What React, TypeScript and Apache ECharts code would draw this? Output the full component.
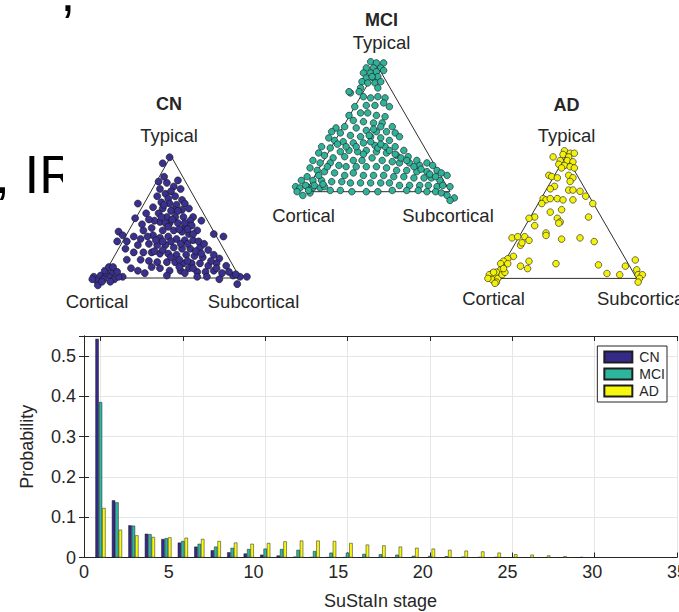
import React, { useEffect, useRef } from "react";
import * as echarts from "echarts";

// ---------- Bar chart data ----------
const STAGES = [1, 2, 3, 4, 5, 6, 7, 8, 9, 10, 11, 12, 13, 14, 15, 16, 17, 18, 19, 20, 21, 22, 23, 24, 25, 26, 27, 28, 29, 30];
const CN_PROB = [0.543, 0.142, 0.08, 0.059, 0.046, 0.037, 0.027, 0.018, 0.013, 0.01, 0.007, 0.005, 0.002, 0.001, 0.0005, 0.0005, 0, 0, 0, 0, 0, 0, 0, 0, 0, 0, 0, 0, 0, 0];
const MCI_PROB = [0.386, 0.137, 0.079, 0.058, 0.048, 0.041, 0.034, 0.027, 0.024, 0.021, 0.022, 0.021, 0.019, 0.016, 0.012, 0.012, 0.009, 0.008, 0.007, 0.004, 0.004, 0.003, 0.002, 0.001, 0.001, 0, 0, 0, 0, 0];
const AD_PROB = [0.123, 0.069, 0.055, 0.051, 0.05, 0.049, 0.046, 0.041, 0.037, 0.034, 0.036, 0.04, 0.042, 0.042, 0.041, 0.036, 0.032, 0.03, 0.027, 0.024, 0.022, 0.019, 0.017, 0.015, 0.012, 0.008, 0.007, 0.005, 0.003, 0.001];
const GRID_STAGES = [1, 6, 11, 16, 21, 26, 31, 36];
const GROUPS = ["CN", "MCI", "AD"];

// ---------- Ternary plots (x: 0 Cortical .. 100 Subcortical, y: 0 base .. 100 Typical) ----------
const TRIANGLE = [[0, 0], [100, 0], [50, 100], [0, 0]];
const VERTEX_LABELS = ["Typical", "Cortical", "Subcortical"];

const CN_POINTS = [
  [49, 99], [44, 94], [47, 78], [42, 73], [52, 75], [57, 73], [46, 69], [50, 71], [40, 67], [48, 65], [53, 67], [58, 64],
  [43, 62], [49, 61], [54, 60], [60, 61], [26, 61], [37, 58], [44, 57], [52, 56], [58, 56], [63, 57], [66, 50], [72, 47],
  [24, 49], [32, 53], [41, 53], [47, 50], [53, 50], [59, 50], [64, 47], [42, 46], [49, 45], [55, 45], [60, 42], [65, 43],
  [30, 39], [36, 41], [44, 39], [52, 39], [58, 38], [63, 36], [69, 39], [12, 38], [23, 34], [28, 32], [37, 35], [42, 33],
  [48, 34], [54, 32], [60, 31], [66, 31], [81, 36], [88, 34], [11, 30], [17, 24], [26, 27], [34, 28], [40, 27], [46, 27],
  [52, 25], [58, 24], [64, 24], [71, 25], [77, 23], [23, 21], [30, 21], [36, 21], [42, 20], [48, 20], [54, 19], [61, 19],
  [67, 18], [73, 17], [81, 19], [85, 16], [18, 15], [28, 15], [34, 14], [40, 13], [47, 13], [53, 13], [59, 12], [65, 12],
  [71, 12], [77, 10], [83, 12], [90, 10], [21, 8], [26, 6], [36, 9], [42, 8], [49, 6], [57, 6], [63, 8], [69, 5], [75, 5],
  [81, 6], [87, 4], [31, 4], [15, 1], [47, 2], [69, 1], [76, 1], [95, 2], [85, -1], [98, -5], [100, 1], [105, 1],
  [-6, 1], [-4, -2], [-1, 2], [1, -1], [3, 4], [6, 1], [8, 5], [2, 6], [5, 9], [8, 9], [9, -1], [12, 1], [-3, -6], [0, -3],
  [6, -3], [-7, -1], [11, 5], [45, 60], [50, 55], [55, 55], [46, 45], [51, 48], [56, 40], [48, 42], [43, 50], [38, 47],
  [60, 45], [62, 40], [66, 36], [70, 30], [74, 28], [68, 22], [72, 20], [62, 28], [57, 28], [50, 30], [44, 30], [39, 31],
  [33, 34], [38, 22], [44, 23], [50, 17], [56, 15], [62, 14], [56, 9], [60, 4], [66, 8], [79, 14], [83, 8], [92, 5], [97, 3],
  [18, 30], [15, 35], [29, 44], [34, 48], [45, 83], [55, 80], [41, 79],
];

const MCI_POINTS = [
  [45, 104], [49, 103], [54, 103], [42, 99], [47, 99], [52, 99], [40, 95], [45, 95], [49, 96], [54, 97], [42, 91], [47, 91],
  [50, 92], [39, 88], [43, 87], [48, 87], [38, 83], [37, 80], [31, 79], [40, 76], [50, 76], [55, 75], [48, 69], [54, 71],
  [58, 68], [34, 68], [42, 69], [38, 63], [43, 63], [49, 61], [55, 60], [30, 61], [33, 57], [40, 56], [47, 55], [53, 55],
  [60, 52], [27, 52], [35, 51], [42, 49], [49, 48], [56, 48], [62, 47], [21, 51], [18, 48], [24, 47], [31, 45], [38, 44],
  [45, 44], [52, 43], [58, 41], [65, 44], [16, 43], [20, 41], [26, 40], [33, 39], [40, 39], [48, 37], [55, 36], [62, 36],
  [68, 33], [11, 36], [17, 35], [24, 32], [30, 33], [36, 32], [42, 33], [49, 32], [56, 31], [63, 29], [71, 28], [77, 25],
  [9, 31], [13, 29], [19, 27], [27, 28], [33, 25], [39, 25], [46, 27], [53, 25], [60, 24], [65, 23], [72, 23], [79, 21],
  [84, 23], [88, 21], [5, 25], [10, 23], [17, 23], [23, 21], [28, 20], [35, 20], [42, 20], [49, 20], [56, 19], [63, 17],
  [70, 17], [77, 16], [84, 16], [91, 17], [94, 15], [3, 19], [8, 17], [13, 16], [20, 15], [27, 13], [33, 15], [40, 13],
  [47, 13], [54, 13], [61, 12], [68, 12], [75, 11], [82, 11], [87, 11], [93, 9], [98, 13], [-3, 9], [1, 12], [5, 9],
  [11, 9], [18, 8], [25, 8], [31, 7], [38, 7], [45, 7], [52, 7], [58, 7], [65, 5], [72, 5], [79, 5], [85, 5], [91, 4],
  [95, 5], [100, 4], [-7, 4], [-4, 3], [1, 4], [5, 3], [10, 3], [17, 1], [24, 1], [32, 0], [42, 0], [50, 0], [60, 1],
  [70, 1], [78, 1], [84, 0], [90, 0], [94, -1], [98, -3], [103, -5], [100, -7], [-6, 0], [-2, -3], [3, -1], [13, 4],
  [0, 5], [6, 5], [45, 40], [50, 35], [52, 38], [58, 33], [62, 30], [66, 27], [70, 25], [75, 20], [80, 18], [86, 14],
  [90, 12], [44, 45], [47, 50], [52, 52], [40, 30], [35, 36], [28, 36], [22, 38], [15, 20], [9, 13], [12, 6], [2, 1],
  [45, 75], [50, 83], [46, 92], [52, 88], [30, 80],
];

const AD_POINTS = [
  [49, 104], [53, 102], [56, 102], [48, 101], [52, 99], [41, 99], [46, 96], [51, 96], [55, 95], [45, 93], [49, 92],
  [53, 91], [47, 90], [56, 90], [38, 84], [40, 83], [44, 82], [52, 84], [55, 82], [42, 75], [39, 73], [53, 79], [52, 72],
  [55, 72], [60, 71], [64, 67], [34, 65], [36, 64], [33, 61], [39, 65], [44, 65], [48, 64], [55, 64], [69, 61], [39, 54],
  [47, 56], [28, 50], [24, 49], [44, 49], [46, 46], [45, 45], [66, 50], [28, 43], [36, 37], [36, 35], [47, 32], [60, 33],
  [70, 30], [12, 33], [16, 34], [21, 34], [24, 31], [18, 27], [19, 29], [13, 18], [9, 16], [6, 14], [4, 12], [9, 12],
  [18, 10], [24, 14], [23, 8], [43, 12], [73, 11], [79, 4], [88, 3], [92, 10], [99, 15], [100, 7], [101, 3], [104, 3],
  [102, 0], [101, -3], [4, 7], [1, 5], [-2, 4], [-4, 3], [-1, 1], [-2, -1], [2, 0], [5, 3], [7, 5], [1, -3], [-5, 0],
  [0, -4], [6, 8], [-1, 5],
];

const TRI_COLORS = ["#3a3090", "#30b199", "#f3f00a"];
const BAR_COLORS = ["#352a87", "#2db59d", "#f6f80e"];
const FONT = "'Liberation Sans', Arial, Helvetica, sans-serif";
const INK = "#262626";

function txt(text: string, x: number, y: number, size: number, opts: any = {}) {
  const align = opts.align || "center";
  return {
    type: "text",
    x,
    y,
    z: 10,
    style: {
      text,
      font: `${opts.bold ? "bold " : ""}${size}px ${FONT}`,
      fill: opts.fill || INK,
      align,
      textAlign: align,
      verticalAlign: "middle",
      textVerticalAlign: "middle",
    },
    silent: true,
  };
}

export default function App() {
  const ref = useRef<HTMLDivElement>(null);

  useEffect(() => {
    if (!ref.current) return;
    const chart = echarts.init(ref.current, null, { renderer: "svg" });

    const probs = [CN_PROB, MCI_PROB, AD_PROB];
    const barSeries = GROUPS.map((g, i) => ({
      name: g,
      type: "bar",
      xAxisIndex: 0,
      yAxisIndex: 0,
      data: STAGES.map((s, k) => [s, probs[i][k]]),
      barWidth: 3.4,
      barGap: "0%",
      itemStyle: { color: BAR_COLORS[i], borderColor: "#1e1e1e", borderWidth: 0.5 },
      z: 3,
    }));

    // triangle grids: [left, top, width, height]
    const triBoxes = [
      [102, 156, 138, 122],
      [305.7, 66.7, 144.3, 125],
      [495, 155.7, 141.7, 122.7],
    ];
    const triPoints = [CN_POINTS, MCI_POINTS, AD_POINTS];

    const triGrids = triBoxes.map((b) => ({ left: b[0], top: b[1], width: b[2], height: b[3], outerBoundsMode: "none" }));
    const triX = triBoxes.map((_, i) => ({ gridIndex: i + 1, type: "value", min: 0, max: 100, show: false }));
    const triY = triBoxes.map((_, i) => ({ gridIndex: i + 1, type: "value", min: 0, max: 100, show: false }));

    const triSeries: any[] = [];
    triBoxes.forEach((_, i) => {
      triSeries.push({
        name: GROUPS[i] + " outline",
        type: "line",
        xAxisIndex: 3 + i,
        yAxisIndex: 2 + i,
        data: TRIANGLE,
        symbol: "none",
        clip: false,
        silent: true,
        lineStyle: { color: "#2e2e2e", width: 1 },
        z: 1,
      });
      triSeries.push({
        name: GROUPS[i] + " subjects",
        type: "scatter",
        xAxisIndex: 3 + i,
        yAxisIndex: 2 + i,
        data: triPoints[i],
        symbol: "circle",
        symbolSize: i === 0 ? 7 : 6.6,
        clip: false,
        silent: true,
        itemStyle: { color: TRI_COLORS[i], borderColor: "#151515", borderWidth: 0.6, opacity: 1 },
        z: 2,
      });
    });

    const axisLine = { show: true, lineStyle: { color: INK, width: 1 } };

    const option: any = {
      animation: false,
      backgroundColor: "#ffffff",
      textStyle: { fontFamily: FONT },
      grid: [
        { left: 84, right: 2, top: 336, bottom: 54.5, outerBoundsMode: "none", containLabel: false },
        ...triGrids,
      ],
      legend: {
        data: GROUPS,
        orient: "vertical",
        right: 12,
        top: 346,
        itemWidth: 28,
        itemHeight: 11,
        itemGap: 3,
        padding: [4, 2, 4, 6],
        borderColor: INK,
        borderWidth: 1,
        backgroundColor: "#ffffff",
        selectedMode: false,
        icon: "rect",
        textStyle: { fontSize: 14, color: INK, fontFamily: FONT, padding: [0, 0, 0, 2] },
      },
      xAxis: [
        {
          gridIndex: 0,
          type: "value",
          position: "bottom",
          min: 0,
          max: 36,
          axisLine,
          axisTick: { show: true, inside: true, length: 5, customValues: GRID_STAGES, lineStyle: { color: INK } },
          axisLabel: { show: false },
          splitLine: { show: true, lineStyle: { color: "#e6e6e6", width: 1 } },
        },
        {
          gridIndex: 0,
          type: "value",
          position: "bottom",
          min: 0,
          max: 35,
          interval: 5,
          axisLine: { show: false },
          axisTick: { show: false },
          splitLine: { show: false },
          axisLabel: { show: true, fontSize: 18, color: INK, margin: 5, fontFamily: FONT, showMinLabel: true, showMaxLabel: true },
          name: "SuStaIn stage",
          nameLocation: "middle",
          nameGap: 34,
          nameTextStyle: { fontSize: 18, color: INK, fontFamily: FONT },
        },
        {
          gridIndex: 0,
          type: "value",
          position: "top",
          min: 0,
          max: 36,
          axisLine,
          axisTick: { show: true, inside: true, length: 5, customValues: GRID_STAGES, lineStyle: { color: INK } },
          axisLabel: { show: false },
          splitLine: { show: false },
        },
        ...triX,
      ],
      yAxis: [
        {
          gridIndex: 0,
          type: "value",
          position: "left",
          min: 0,
          max: 0.55,
          interval: 0.1,
          axisLine,
          axisTick: { show: true, inside: true, length: 5, lineStyle: { color: INK } },
          axisLabel: { show: true, fontSize: 18, color: INK, margin: 8, fontFamily: FONT, showMaxLabel: false },
          splitLine: { show: true, lineStyle: { color: "#e6e6e6", width: 1 } },
          name: "Probability",
          nameLocation: "middle",
          nameGap: 48,
          nameTextStyle: { fontSize: 18, color: INK, fontFamily: FONT },
        },
        {
          gridIndex: 0,
          type: "value",
          position: "right",
          min: 0,
          max: 0.55,
          interval: 0.1,
          axisLine,
          axisTick: { show: true, inside: true, length: 5, lineStyle: { color: INK } },
          axisLabel: { show: false },
          splitLine: { show: false },
        },
        ...triY,
      ],
      series: [...barSeries, ...triSeries],
      graphic: [
        txt(",", 60.5, -7.5, 53, { align: "left", fill: "#000" }),
        txt(", IR", -5, 174.5, 53, { align: "left", fill: "#000" }),
        { type: "rect", shape: { x: 63, y: 140, width: 30, height: 62 }, style: { fill: "#ffffff" }, z: 11, silent: true },
        // CN
        txt(GROUPS[0], 169, 104, 18, { bold: true }),
        txt(VERTEX_LABELS[0], 169, 135.5, 18.5),
        txt(VERTEX_LABELS[1], 97, 301, 18.5),
        txt(VERTEX_LABELS[2], 253.5, 301, 18.5),
        // MCI
        txt(GROUPS[1], 381.5, 19.5, 18, { bold: true }),
        txt(VERTEX_LABELS[0], 381.5, 42, 18.5),
        txt(VERTEX_LABELS[1], 303.5, 215, 18.5),
        txt(VERTEX_LABELS[2], 448, 215, 18.5),
        // AD
        txt(GROUPS[2], 566.5, 105, 18, { bold: true }),
        txt(VERTEX_LABELS[0], 566.5, 135, 18.5),
        txt(VERTEX_LABELS[1], 493.5, 298, 18.5),
        txt(VERTEX_LABELS[2], 597, 298, 18.5, { align: "left" }),
      ],
    };

    chart.setOption(option);
    return () => chart.dispose();
  }, []);

  return (
    <div
      ref={ref}
      style={{ position: "fixed", left: 0, top: 0, width: 679, height: 612, background: "#fff" }}
    />
  );
}
